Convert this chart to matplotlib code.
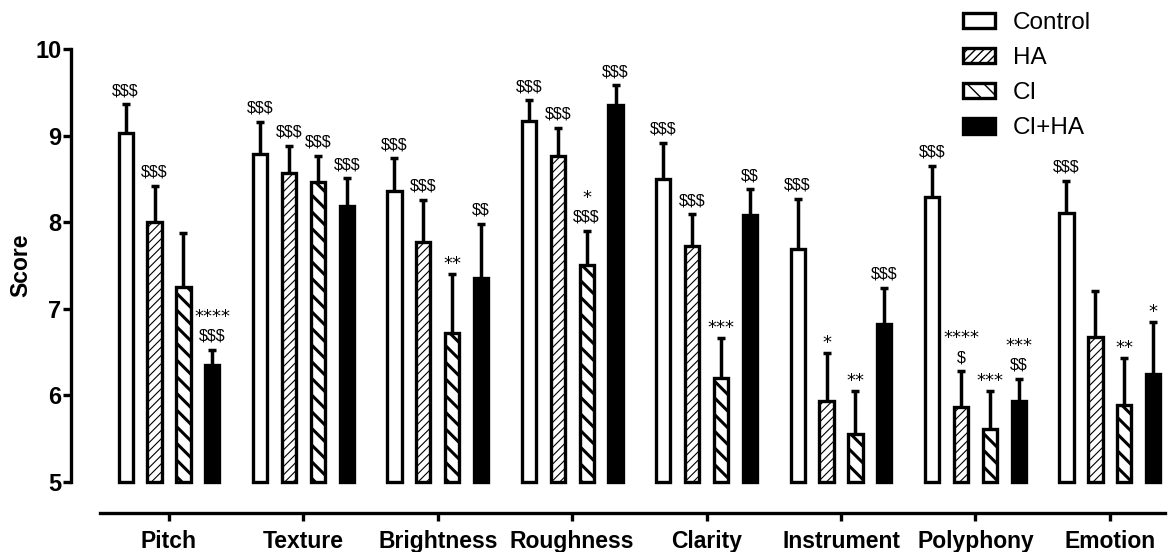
import matplotlib
matplotlib.use('Agg')
import matplotlib.pyplot as plt
import numpy as np
from matplotlib.patches import Patch

categories = ['Pitch', 'Texture', 'Brightness', 'Roughness', 'Clarity',
              'Instrument', 'Polyphony', 'Emotion']
groups = ['Control', 'HA', 'CI', 'CI+HA']

control = [9.03, 8.79, 8.36, 9.17, 8.50, 7.69, 8.29, 8.11]
control_err = [0.33, 0.37, 0.38, 0.24, 0.42, 0.58, 0.36, 0.37]
ha = [8.00, 8.57, 7.77, 8.76, 7.72, 5.93, 5.87, 6.68]
ha_err = [0.42, 0.31, 0.49, 0.33, 0.37, 0.56, 0.41, 0.53]
ci = [7.25, 8.46, 6.72, 7.51, 6.20, 5.55, 5.61, 5.89]
ci_err = [0.63, 0.31, 0.68, 0.39, 0.46, 0.50, 0.44, 0.54]
ciha = [6.35, 8.19, 7.36, 9.35, 8.08, 6.82, 5.93, 6.25]
ciha_err = [0.18, 0.32, 0.62, 0.23, 0.30, 0.42, 0.26, 0.60]

dollars_control = ['$$$', '$$$', '$$$', '$$$', '$$$', '$$$', '$$$', '$$$']
dollars_ha = ['$$$', '$$$', '$$$', '$$$', '$$$', '', '$', '']
dollars_ci = ['', '$$$', '', '$$$', '', '', '', '']
dollars_ciha = ['$$$', '$$$', '$$', '$$$', '$$', '$$$', '$$', '']
stars_control = ['', '', '', '', '', '', '', '']
stars_ha = ['', '', '', '', '', '*', '****', '']
stars_ci = ['', '', '**', '*', '***', '**', '***', '**']
stars_ciha = ['****', '', '', '', '', '', '***', '*']

yticks = [5, 6, 7, 8, 9, 10]

plt.rcParams['font.family'] = ['Liberation Sans', 'DejaVu Sans']
plt.rcParams['hatch.color'] = 'black'

W, H = 1173, 552
fig = plt.figure(figsize=(W / 100, H / 100), dpi=100)
ax = fig.add_axes([71 / W, 39 / H, (W - 71) / W, (513 - 49) / H])

x = np.arange(len(categories))
pitch = 0.215
width = 0.106
offsets = [-1.5 * pitch, -0.5 * pitch, 0.5 * pitch, 1.5 * pitch]
means = [control, ha, ci, ciha]
errs = [control_err, ha_err, ci_err, ciha_err]
dollars = [dollars_control, dollars_ha, dollars_ci, dollars_ciha]
stars = [stars_control, stars_ha, stars_ci, stars_ciha]
faces = ['white', 'white', 'white', 'black']
hatches = [None, '////', '\\\\', None]
hatch_lws = [1.0, 0.8, 2.2, 1.0]
edge_lw = 2.4
base = 5
dollar_fs = 11.5
star_fs = 13
star_font = ['DejaVu Sans']

handles = []
for g in range(4):
    plt.rcParams['hatch.linewidth'] = hatch_lws[g]
    heights = [m - base for m in means[g]]
    bars = ax.bar(x + offsets[g], heights, width, bottom=base,
                  color=faces[g], edgecolor='black', linewidth=edge_lw,
                  hatch=hatches[g], zorder=3)
    for b in bars:
        if hasattr(b, 'set_hatch_linewidth'):
            b.set_hatch_linewidth(hatch_lws[g])
    h = Patch(facecolor=faces[g], edgecolor='black', linewidth=edge_lw,
              hatch=hatches[g], label=groups[g])
    if hasattr(h, 'set_hatch_linewidth'):
        h.set_hatch_linewidth(hatch_lws[g])
    handles.append(h)
    eb = ax.errorbar(x + offsets[g], means[g],
                     yerr=[np.zeros(len(categories)), errs[g]],
                     fmt='none', ecolor='black', elinewidth=2.5,
                     capsize=3, capthick=2.5, zorder=2)
    caps = eb[1]
    if len(caps) >= 2:
        caps[0].set_visible(False)
    for i in range(len(categories)):
        top = means[g][i] + errs[g][i]
        xi = x[i] + offsets[g]
        if dollars[g][i]:
            ax.annotate(dollars[g][i], (xi, top), xytext=(0, 6.5),
                        textcoords='offset points', ha='center',
                        va='baseline', fontsize=dollar_fs, parse_math=False,
                        annotation_clip=False)
            if stars[g][i]:
                ax.annotate(stars[g][i], (xi, top), xytext=(0, 20),
                            textcoords='offset points', ha='center',
                            va='baseline', fontsize=star_fs,
                            family=star_font, parse_math=False,
                            annotation_clip=False)
        elif stars[g][i]:
            ax.annotate(stars[g][i], (xi, top), xytext=(0, 3.6),
                        textcoords='offset points', ha='center',
                        va='baseline', fontsize=star_fs, family=star_font,
                        parse_math=False, annotation_clip=False)

ax.set_xlim(-0.729, 7.47)
ax.set_ylim(4.642, 10)
for s in ['top', 'right']:
    ax.spines[s].set_visible(False)
ax.spines['left'].set_bounds(5, 10)
ax.spines['bottom'].set_bounds(-0.513, 7.41)
ax.spines['left'].set_linewidth(2.4)
ax.spines['bottom'].set_linewidth(2.4)
ax.set_yticks(yticks)
ax.set_yticklabels([str(t) for t in yticks], fontsize=17, fontweight='bold')
ax.set_xticks(x)
ax.set_xticklabels(categories, fontsize=16.5, fontweight='bold')
ax.tick_params(axis='y', length=6, width=2.4, pad=1)
ax.tick_params(axis='x', length=6, width=2.4, pad=6)
ax.set_ylabel('Score', fontsize=16.5, fontweight='bold')
ax.yaxis.set_label_coords(-0.0354, 0.533)

leg = fig.legend(handles=handles, loc='upper left',
                 bbox_to_anchor=(963 / W, 1 - 12 / H), frameon=False,
                 fontsize=17.5, handlelength=1.3, handleheight=0.6,
                 handletextpad=0.75, labelspacing=0.54, borderpad=0,
                 borderaxespad=0)

fig.savefig('out.png', dpi=100)
